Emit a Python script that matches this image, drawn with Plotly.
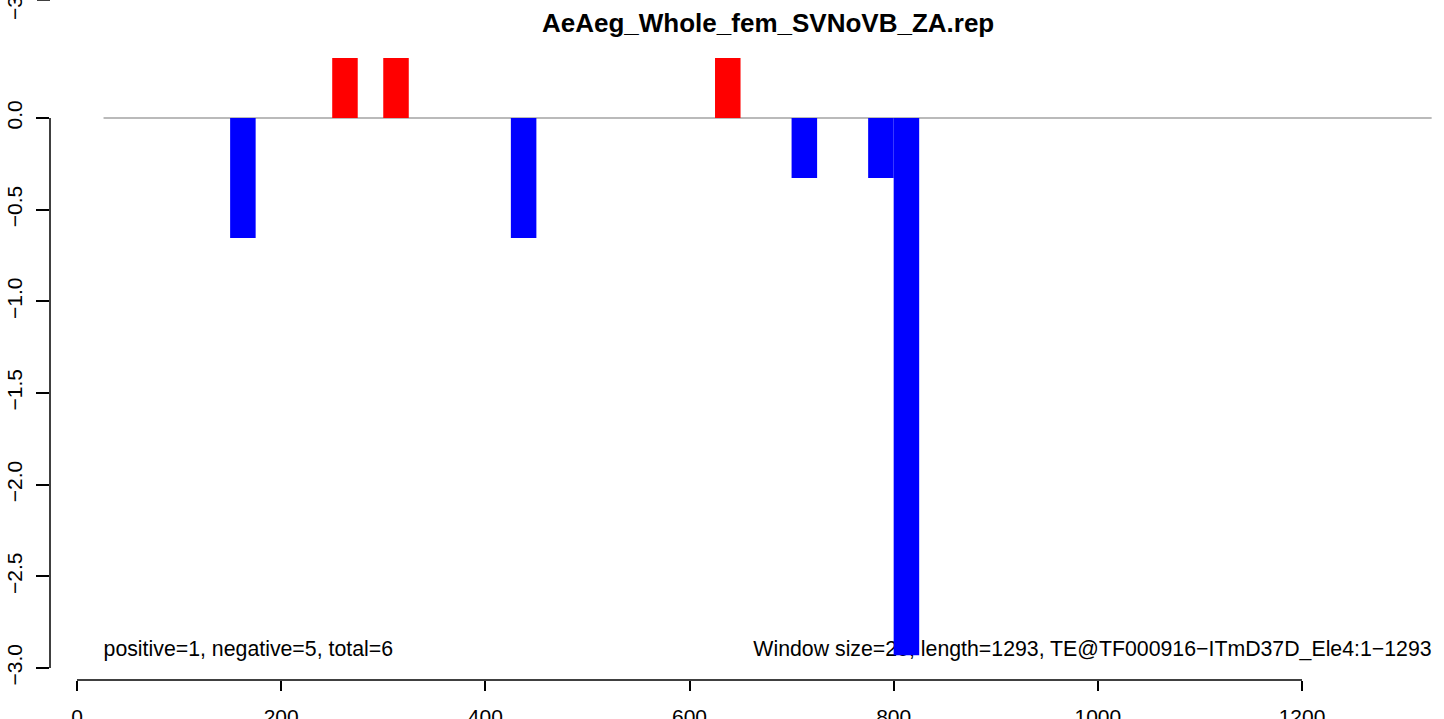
import plotly.graph_objects as go

# window starts (bp) and signed scores of each window
window = 25
starts = [150, 250, 300, 425, 625, 700, 775, 800]
scores = [-0.654, 0.327, 0.327, -0.654, 0.327, -0.327, -0.327, -2.93]
line_span = [26, 1327]

x_ticks = [0, 200, 400, 600, 800, 1000, 1200]
y_ticks = [-3.0, -2.5, -2.0, -1.5, -1.0, -0.5, 0.0]

title = "AeAeg_Whole_fem_SVNoVB_ZA.rep"
left_note = "positive=1, negative=5, total=6"
right_note = "Window size=25, length=1293, TE@TF000916\u2212ITmD37D_Ele4:1\u22121293"

colors = ["red" if s > 0 else "blue" for s in scores]
font = "Liberation Sans, Arial, Helvetica, sans-serif"

xr = [-26.45, 1339.1]
yr = [-3.0655, 0.6436]

fig = go.Figure()

# zero line and notes on the base axes (drawn under the bars)
fig.add_trace(go.Scatter(x=line_span, y=[0, 0], mode="lines",
                         line=dict(color="#a3a3a3", width=1.5),
                         hoverinfo="skip", showlegend=False))
fig.add_trace(go.Scatter(x=line_span, y=[-2.905, -2.905], mode="text",
                         text=[left_note, right_note],
                         textposition=["middle right", "middle left"],
                         textfont=dict(family=font, size=21.3, color="black"),
                         hoverinfo="skip", showlegend=False))

fig.add_trace(go.Bar(x=starts, y=scores, width=window, offset=0,
                     marker=dict(color=colors, line=dict(width=0)),
                     xaxis="x2", yaxis="y2", showlegend=False))

fig.update_layout(
    width=1444, height=719,
    margin=dict(l=50, r=0, t=0, b=39, pad=0),
    paper_bgcolor="white", plot_bgcolor="white",
    font=dict(family=font, size=16, color="black"),
    xaxis=dict(range=xr, showgrid=False, zeroline=False, showline=False,
               automargin=False,
               tickvals=x_ticks, ticks="outside", ticklen=10, tickwidth=1.5,
               tickcolor="black", ticklabelstandoff=8,
               tickfont=dict(size=21)),
    yaxis=dict(range=yr, showgrid=False, zeroline=False, showline=False,
               automargin=False,
               tickvals=y_ticks, ticktext=[f"{v:.1f}".replace("-", "\u2212") for v in y_ticks],
               ticks="outside", ticklen=13, tickwidth=1.5, tickcolor="black",
               tickangle=-90, ticklabelstandoff=6, tickfont=dict(size=21)),
    xaxis2=dict(range=xr, overlaying="x", visible=False),
    yaxis2=dict(range=yr, overlaying="y", visible=False),
    shapes=[
        dict(type="line", xref="x", yref="paper", x0=x_ticks[0], x1=x_ticks[-1],
             y0=0, y1=0, line=dict(color="black", width=1.5)),
        dict(type="line", xref="paper", yref="y", x0=0, x1=0,
             y0=y_ticks[0], y1=y_ticks[-1], line=dict(color="black", width=1.5)),
        # tick of the panel above, cut off at the top edge
        dict(type="line", xref="paper", yref="paper", x0=-13 / 1394, x1=0,
             y0=1, y1=1, line=dict(color="black", width=1.5)),
    ],
    annotations=[
        dict(text=f"<b>{title}</b>", xref="paper", yref="paper",
             x=(768 - 50) / 1394, y=(680 - 23) / 680, showarrow=False,
             xanchor="center", yanchor="middle", font=dict(size=26)),
        dict(text="\u22123.0", xref="paper", yref="paper",
             x=-36 / 1394, y=1, textangle=-90, showarrow=False,
             xanchor="center", yanchor="middle", font=dict(size=21)),
    ],
)

fig.write_html("out.html", config={"displayModeBar": False},
               post_script="document.body.style.margin='0';")
